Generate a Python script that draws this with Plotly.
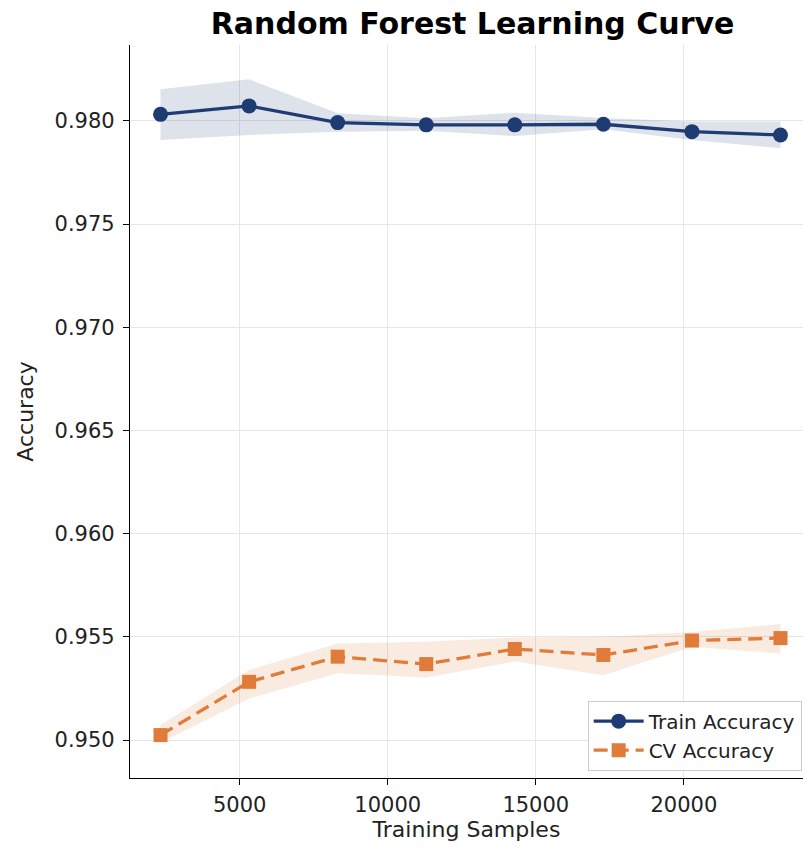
import plotly.graph_objects as go

train_sizes = [2327, 5318, 8309, 11300, 14291, 17282, 20273, 23264]
train_mean = [0.98032, 0.98073, 0.97992, 0.97981, 0.97981, 0.97984, 0.97948, 0.97932]
train_upper = [0.98154, 0.98202, 0.98037, 0.98013, 0.98040, 0.98014, 0.97997, 0.97997]
train_lower = [0.97908, 0.97932, 0.97948, 0.97953, 0.97927, 0.97960, 0.97908, 0.97868]
cv_mean = [0.95024, 0.95282, 0.95404, 0.95368, 0.95441, 0.95412, 0.95482, 0.95494]
cv_upper = [0.95073, 0.95339, 0.95468, 0.95476, 0.95497, 0.95500, 0.95524, 0.95562]
cv_lower = [0.94987, 0.95201, 0.95323, 0.95303, 0.95380, 0.95314, 0.95452, 0.95419]
y_ticks = [0.950, 0.955, 0.960, 0.965, 0.970, 0.975, 0.980]
x_ticks = [5000, 10000, 15000, 20000]

train_color = "#1f3b73"
cv_color = "#e07b39"
font = "DejaVu Sans"

fig = go.Figure()
fig.add_trace(go.Scatter(
    x=train_sizes + train_sizes[::-1], y=train_upper + train_lower[::-1],
    mode="lines", fill="toself", fillcolor="rgba(31,59,115,0.15)",
    line=dict(width=0, color="rgba(0,0,0,0)"),
    hoverinfo="skip", showlegend=False))
fig.add_trace(go.Scatter(
    x=train_sizes + train_sizes[::-1], y=cv_upper + cv_lower[::-1],
    mode="lines", fill="toself", fillcolor="rgba(224,123,57,0.15)",
    line=dict(width=0, color="rgba(0,0,0,0)"),
    hoverinfo="skip", showlegend=False))
fig.add_trace(go.Scatter(
    x=train_sizes, y=train_mean, mode="lines+markers", name="Train Accuracy",
    line=dict(color=train_color, width=3.3),
    marker=dict(symbol="circle", size=15, color=train_color)))
fig.add_trace(go.Scatter(
    x=train_sizes, y=cv_mean, mode="lines+markers", name="CV Accuracy",
    line=dict(color=cv_color, width=3.3, dash="14px,7px"),
    marker=dict(symbol="square", size=14, color=cv_color)))

fig.update_layout(
    width=805, height=850,
    margin=dict(l=130, r=2, t=45, b=72),
    paper_bgcolor="white", plot_bgcolor="white",
    font=dict(family=font, size=21, color="#222222"),
    title=dict(text="<b>Random Forest Learning Curve</b>", x=0.587, xanchor="center",
               y=0.972, yanchor="middle", font=dict(family=font, size=30, color="black")),
    legend=dict(x=0.998, y=0.01, xanchor="right", yanchor="bottom",
                bgcolor="rgba(255,255,255,0.85)", bordercolor="#cccccc", borderwidth=1,
                font=dict(family=font, size=20, color="#222222"),
                tracegroupgap=4, itemwidth=50),
    showlegend=True,
)
fig.update_xaxes(
    range=[1296, 24024], tickvals=x_ticks, tickformat="d",
    showgrid=True, gridcolor="#e6e6e6", gridwidth=1,
    showline=True, linecolor="black", linewidth=1.3,
    ticks="outside", ticklen=6, tickcolor="black",
    tickfont=dict(family=font, size=21), ticklabelstandoff=2,
    zeroline=False,
    title=dict(text="Training Samples", font=dict(family=font, size=22), standoff=5))
fig.update_yaxes(
    range=[0.94816, 0.98368], tickvals=y_ticks, tickformat=".3f",
    showgrid=True, gridcolor="#e6e6e6", gridwidth=1,
    showline=True, linecolor="black", linewidth=1.3,
    ticks="outside", ticklen=6, tickcolor="black",
    tickfont=dict(family=font, size=21), ticklabelstandoff=4,
    zeroline=False,
    title=dict(text="Accuracy", font=dict(family=font, size=22), standoff=14))

fig.write_html("out.html")
